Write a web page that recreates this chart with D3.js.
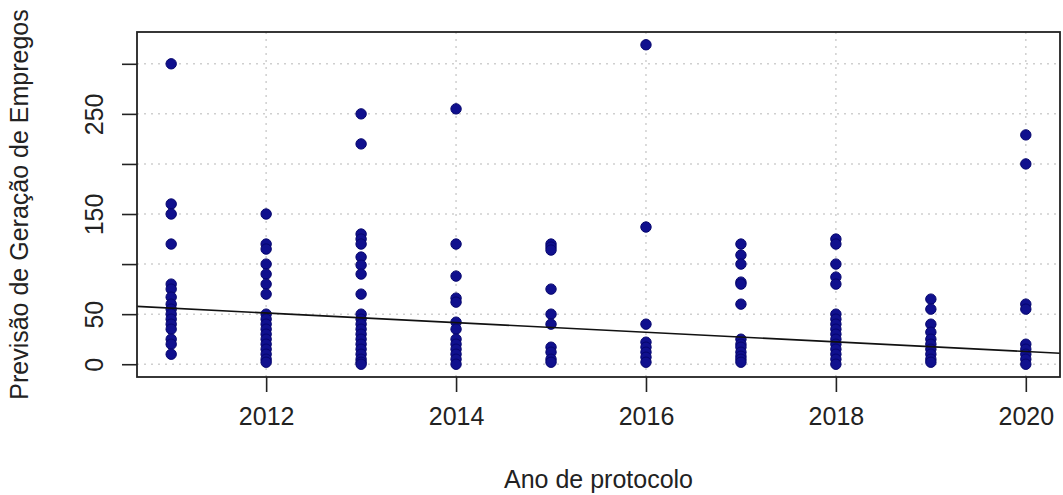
<!DOCTYPE html>
<html><head><meta charset="utf-8">
<script src="https://cdn.jsdelivr.net/npm/d3@7"></script>
<style>
html,body{margin:0;padding:0;background:#fff;}
svg text{font-family:"Liberation Sans",Arial,sans-serif;fill:#222;}
</style></head>
<body>
<svg id="chart" width="1063" height="495"></svg>
<script>
// ---- data ----
const years = [2011, 2012, 2013, 2014, 2015, 2016, 2017, 2018, 2019, 2020];
const v2011 = [300, 160, 150, 120, 80, 75, 67, 60, 55, 50, 45, 40, 35, 25, 20, 10];
const v2012 = [150, 120, 115, 100, 90, 80, 70, 50, 45, 40, 35, 30, 25, 20, 15, 10, 5, 2];
const v2013 = [250, 220, 130, 125, 120, 107, 99, 90, 70, 50, 45, 40, 35, 30, 25, 20, 15, 10, 5, 2, 0];
const v2014 = [255, 120, 88, 66, 62, 42, 35, 25, 20, 15, 10, 5, 0];
const v2015 = [120, 117, 114, 75, 50, 40, 17, 12, 5, 2];
const v2016 = [319, 137, 40, 22, 17, 12, 7, 2];
const v2017 = [120, 109, 100, 82, 80, 60, 25, 20, 17, 12, 8, 5, 2];
const v2018 = [125, 120, 100, 87, 80, 50, 45, 40, 35, 30, 25, 20, 15, 10, 5, 0];
const v2019 = [65, 55, 40, 32, 25, 20, 15, 10, 5, 2];
const v2020 = [229, 200, 60, 55, 20, 15, 10, 5, 0];
const valuesByYear = [v2011, v2012, v2013, v2014, v2015, v2016, v2017, v2018, v2019, v2020];

const xTicks = [2012, 2014, 2016, 2018, 2020];
const yTicks = [0, 50, 100, 150, 200, 250, 300];
const yTickLabels = ["0", "50", "", "150", "", "250", ""];

// fitted trend line (at two years)
const trendYears = [2011, 2020];
const trendValues = [56, 12.7];

const xTitle = "Ano de protocolo";
const yTitle = "Previsão de Geração de Empregos";

// ---- build ----
const points = [];
years.forEach((yr, i) => valuesByYear[i].forEach(v => points.push({year: yr, value: v})));

const plot = {left: 137, right: 1060, top: 32, bottom: 377};
function rExt(ext) { const d = (ext[1] - ext[0]) * 0.04; return [ext[0] - d, ext[1] + d]; }

const x = d3.scaleLinear().domain(rExt(d3.extent(points, d => d.year))).range([plot.left, plot.right]);
const y = d3.scaleLinear().domain(rExt(d3.extent(points, d => d.value))).range([plot.bottom, plot.top]);

const svg = d3.select("#chart");

// grid
const grid = svg.append("g").attr("stroke", "#cfcfcf").attr("stroke-width", 1.5).attr("stroke-dasharray", "2,5");
grid.selectAll("line.v").data(xTicks).join("line").attr("class", "v")
  .attr("x1", d => x(d)).attr("x2", d => x(d)).attr("y1", plot.top).attr("y2", plot.bottom);
grid.selectAll("line.h").data(yTicks).join("line").attr("class", "h")
  .attr("y1", d => y(d)).attr("y2", d => y(d)).attr("x1", plot.left).attr("x2", plot.right);

// points
svg.append("g").selectAll("circle").data(points).join("circle")
  .attr("cx", d => x(d.year)).attr("cy", d => y(d.value)).attr("r", 5.2)
  .attr("fill", "#10108e").attr("stroke", "#06066e").attr("stroke-width", 1);

// trend line across the plot region
const slope = (trendValues[1] - trendValues[0]) / (trendYears[1] - trendYears[0]);
const xd = x.domain();
const trendLine = xd.map(t => ({year: t, value: trendValues[0] + slope * (t - trendYears[0])}));
svg.append("path").datum(trendLine)
  .attr("d", d3.line().x(d => x(d.year)).y(d => y(d.value)))
  .attr("fill", "none").attr("stroke", "#111").attr("stroke-width", 1.6);

// box
svg.append("rect").attr("x", plot.left).attr("y", plot.top)
  .attr("width", plot.right - plot.left).attr("height", plot.bottom - plot.top)
  .attr("fill", "none").attr("stroke", "#222").attr("stroke-width", 1.8);

// x axis
const xAxis = d3.axisBottom(x).tickValues(xTicks).tickSize(15).tickPadding(15).tickFormat(d3.format("d"));
const gx = svg.append("g").attr("transform", `translate(0,${plot.bottom})`).call(xAxis);
gx.select(".domain").remove();
gx.selectAll(".tick line").attr("stroke", "#222").attr("stroke-width", 1.6);
gx.selectAll(".tick text").attr("font-size", 25).attr("fill", "#222")
  .attr("font-family", "'Liberation Sans',Arial,sans-serif");

// y axis
const yAxis = d3.axisLeft(y).tickValues(yTicks).tickSize(15).tickPadding(0).tickFormat((d, i) => yTickLabels[i]);
const gy = svg.append("g").attr("transform", `translate(${plot.left},0)`).call(yAxis);
gy.select(".domain").remove();
gy.selectAll(".tick line").attr("stroke", "#222").attr("stroke-width", 1.6);
gy.selectAll(".tick text").attr("font-size", 25).attr("fill", "#222")
  .attr("font-family", "'Liberation Sans',Arial,sans-serif")
  .attr("text-anchor", "middle").attr("x", 0).attr("dy", 0)
  .attr("transform", "translate(-34,0) rotate(-90)");

// titles
svg.append("text").attr("x", (plot.left + plot.right) / 2).attr("y", 488)
  .attr("text-anchor", "middle").attr("font-size", 25).text(xTitle);
svg.append("text").attr("transform", `translate(28,${(plot.top + plot.bottom) / 2}) rotate(-90)`)
  .attr("text-anchor", "middle").attr("font-size", 25).text(yTitle);
</script>
</body></html>
